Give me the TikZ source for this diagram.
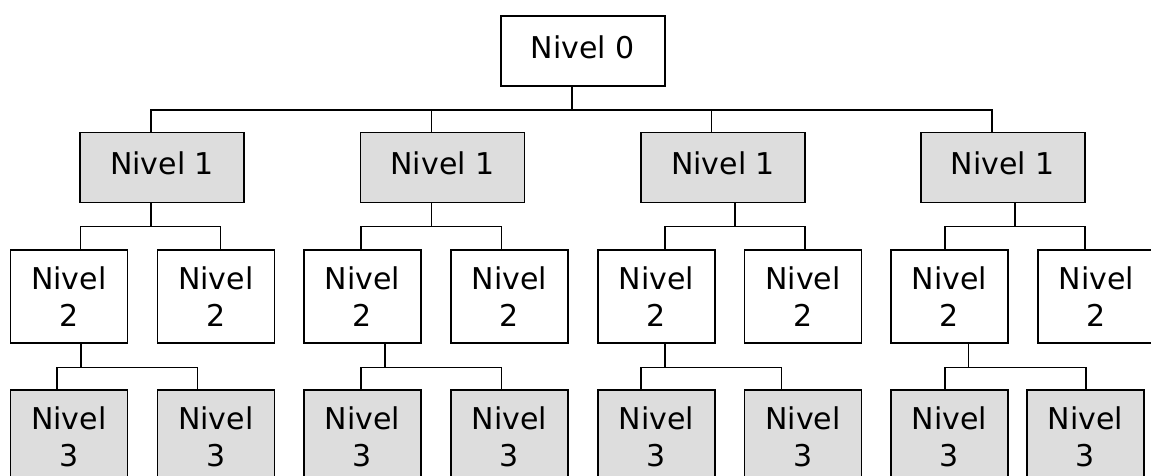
\documentclass[tikz,border=0pt]{standalone}
\usepackage{fontspec}
\setmainfont{DejaVu Sans}
\definecolor{boxgray}{RGB}{221,221,221}
\tikzset{
  box/.style={draw=black, line width=1.6pt, inner sep=0pt, anchor=north west,
    align=center, font=\fontsize{30}{37}\selectfont},
  lvlzero/.style={box, fill=white, minimum width=164pt, minimum height=70pt, text depth=8pt},
  lvlone/.style={box, fill=boxgray, minimum width=164pt, minimum height=70pt, text depth=8pt},
  lvltwo/.style={box, fill=white, minimum width=117pt, minimum height=93.3pt},
  lvlthree/.style={box, fill=boxgray, minimum width=117pt, minimum height=93.3pt},
  link/.style={draw=black, line width=1.4pt}
}
\begin{document}
\begin{tikzpicture}[x=1pt, y=-1pt]
    \useasboundingbox (0,0) rectangle (1151,476);
    \clip (0,0) rectangle (1151,476);

    \node[lvlzero] (root) at (500, 15) {Nivel 0};

    \node[lvlone] (l1a) at (79.3, 131.7) {Nivel 1};
    \node[lvlone] (l1b) at (359.7, 131.7) {Nivel 1};
    \node[lvlone] (l1c) at (640.3, 131.7) {Nivel 1};
    \node[lvlone] (l1d) at (920, 131.7) {Nivel 1};

    \node[lvltwo] (l2a) at (9.5, 249) {Nivel\\2};
    \node[lvltwo] (l2b) at (156.5, 249) {Nivel\\2};
    \node[lvltwo] (l2c) at (303.1, 249) {Nivel\\2};
    \node[lvltwo] (l2d) at (450, 249) {Nivel\\2};
    \node[lvltwo] (l2e) at (597, 249) {Nivel\\2};
    \node[lvltwo] (l2f) at (743.6, 249) {Nivel\\2};
    \node[lvltwo] (l2g) at (890.2, 249) {Nivel\\2};
    \node[lvltwo] (l2h) at (1037, 249) {Nivel\\2};

    \node[lvlthree] (l3a) at (9.5, 389) {Nivel\\3};
    \node[lvlthree] (l3b) at (156.5, 389) {Nivel\\3};
    \node[lvlthree] (l3c) at (303.1, 389) {Nivel\\3};
    \node[lvlthree] (l3d) at (450, 389) {Nivel\\3};
    \node[lvlthree] (l3e) at (597, 389) {Nivel\\3};
    \node[lvlthree] (l3f) at (743.6, 389) {Nivel\\3};
    \node[lvlthree] (l3g) at (890.2, 389) {Nivel\\3};
    \node[lvlthree] (l3h) at (1026, 389) {Nivel\\3};

    % Lines
    \draw[link] ([xshift=-11pt]root.south) -- ++(0,23.3) -| ([xshift=-11.3pt]l1a.north);
    \draw[link] ([xshift=-11pt]root.south) -- ++(0,23.3) -| ([xshift=-11.2pt]l1b.north);
    \draw[link] ([xshift=-11pt]root.south) -- ++(0,23.3) -| ([xshift=-11.9pt]l1c.north);
    \draw[link] ([xshift=-11pt]root.south) -- ++(0,23.3) -| ([xshift=-11pt]l1d.north);

    \draw[link] ([xshift=-11.3pt]l1a.south) -- ++(0,23.3) -| ([xshift=11.6pt]l2a.north);
    \draw[link] ([xshift=-11.3pt]l1a.south) -- ++(0,23.3) -| ([xshift=4.7pt]l2b.north);
    \draw[link] ([xshift=-11.2pt]l1b.south) -- ++(0,23.3) -| ([xshift=-1.5pt]l2c.north);
    \draw[link] ([xshift=-11.2pt]l1b.south) -- ++(0,23.3) -| ([xshift=-7.9pt]l2d.north);
    \draw[link] ([xshift=11.7pt]l1c.south) -- ++(0,23.3) -| ([xshift=8.5pt]l2e.north);
    \draw[link] ([xshift=11.7pt]l1c.south) -- ++(0,23.3) -| ([xshift=1.9pt]l2f.north);
    \draw[link] ([xshift=12pt]l1d.south) -- ++(0,23.3) -| ([xshift=-4.5pt]l2g.north);
    \draw[link] ([xshift=12pt]l1d.south) -- ++(0,23.3) -| ([xshift=-11.5pt]l2h.north);

    \draw[link] ([xshift=12pt]l2a.south) -- ++(0,23.4) -| ([xshift=-11.8pt]l3a.north);
    \draw[link] ([xshift=12pt]l2a.south) -- ++(0,23.4) -| ([xshift=-18.3pt]l3b.north);
    \draw[link] ([xshift=22.4pt]l2c.south) -- ++(0,23.4) -| ([xshift=-1.5pt]l3c.north);
    \draw[link] ([xshift=22.4pt]l2c.south) -- ++(0,23.4) -| ([xshift=-7.9pt]l3d.north);
    \draw[link] ([xshift=8.5pt]l2e.south) -- ++(0,23.4) -| ([xshift=-15.2pt]l3e.north);
    \draw[link] ([xshift=8.5pt]l2e.south) -- ++(0,23.4) -| ([xshift=-21.7pt]l3f.north);
    \draw[link] ([xshift=18.8pt]l2g.south) -- ++(0,23.4) -| ([xshift=-4.5pt]l3g.north);
    \draw[link] ([xshift=18.8pt]l2g.south) -- ++(0,23.4) -| ([xshift=0.5pt]l3h.north);

\end{tikzpicture}
\end{document}
